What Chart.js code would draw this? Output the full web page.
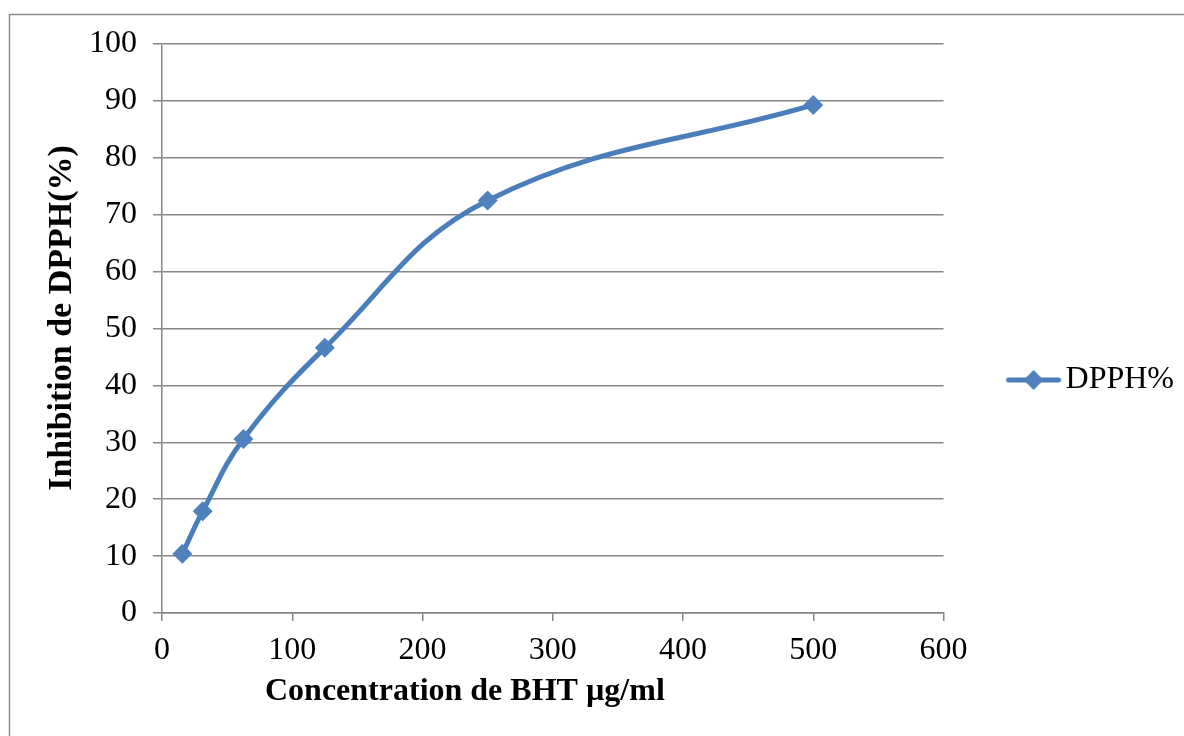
<!DOCTYPE html>
<html>
<head>
<meta charset="utf-8">
<script src="https://cdn.jsdelivr.net/npm/chart.js@4/dist/chart.umd.min.js"></script>
<style>
  html, body { margin: 0; padding: 0; background: #fff; overflow: hidden; }
  #wrap { width: 1184px; height: 736px; position: relative; }
</style>
</head>
<body>
<div id="wrap"><canvas id="c" width="1184" height="736"></canvas></div>
<script>
// Concentrations of BHT (µg/ml) and the matching DPPH inhibition (%)
const concentrations = [15.625, 31.25, 62.5, 125, 250, 500];
const inhibition = [10.4, 17.9, 30.6, 46.6, 72.5, 89.3];
const seriesName = 'DPPH%';
const xTitle = 'Concentration de BHT µg/ml';
const yTitle = 'Inhibition de DPPH(%)';

const lineColor = '#4A7EBB';
const markerColor = '#4F81BD';
const gridColor = '#868686';
const font = 'Liberation Serif, Times New Roman, serif';

// Legend swatch: a short line with a diamond marker on it
function legendSwatch() {
  const c = document.createElement('canvas');
  c.width = 58; c.height = 24;
  const g = c.getContext('2d');
  g.strokeStyle = lineColor;
  g.lineWidth = 5;
  g.lineCap = 'round';
  g.beginPath(); g.moveTo(4, 12); g.lineTo(54, 12); g.stroke();
  g.fillStyle = markerColor;
  g.beginPath();
  g.moveTo(29, 2); g.lineTo(39, 12); g.lineTo(29, 22); g.lineTo(19, 12);
  g.closePath(); g.fill();
  return c;
}

// Thin frame around the chart object
const frame = {
  id: 'frame',
  beforeDraw(chart) {
    const g = chart.ctx;
    g.save();
    g.strokeStyle = '#8c8c8c';
    g.lineWidth = 1.5;
    g.beginPath();
    g.moveTo(9.5, 740); g.lineTo(9.5, 14.5); g.lineTo(1190, 14.5);
    g.stroke();
    g.restore();
  }
};

// Axis titles, placed in the space reserved by the scales
const axisTitles = {
  id: 'axisTitles',
  afterDraw(chart) {
    const g = chart.ctx;
    const a = chart.chartArea;
    g.save();
    g.fillStyle = '#000';
    g.textBaseline = 'middle';
    g.font = 'bold 32px ' + font;
    g.textAlign = 'left';
    g.fillText(xTitle, a.left + 103, 692);
    g.translate(62, 318);
    g.rotate(-Math.PI / 2);
    g.textAlign = 'center';
    g.font = 'bold 34px ' + font;
    g.fillText(yTitle, 0, 0);
    g.restore();
  }
};

new Chart(document.getElementById('c'), {
  type: 'line',
  data: {
    datasets: [{
      label: seriesName,
      data: concentrations.map((x, i) => ({ x, y: inhibition[i] })),
      borderColor: lineColor,
      backgroundColor: markerColor,
      borderWidth: 5,
      tension: 0.4,
      pointStyle: 'rectRot',
      pointRadius: 10,
      pointHoverRadius: 10,
      pointBorderWidth: 0,
      pointBackgroundColor: markerColor,
      fill: false
    }]
  },
  options: {
    responsive: false,
    animation: false,
    events: [],
    layout: { padding: { left: 44, top: 44, right: 0, bottom: 20 } },
    scales: {
      x: {
        type: 'linear',
        min: 0, max: 600,
        ticks: { stepSize: 100, color: '#000', font: { family: font, size: 32 }, padding: 10 },
        grid: { drawOnChartArea: false, drawTicks: true, tickLength: 8, color: gridColor, lineWidth: 1.5 },
        border: { color: gridColor, width: 1.5 },
        title: { display: false, text: xTitle },
        afterFit(s) { s.height = 736 - 613 - 20; }
      },
      y: {
        min: 0, max: 100,
        ticks: { stepSize: 10, color: '#000', font: { family: font, size: 32 }, padding: 16 },
        grid: { color: gridColor, lineWidth: 1.5, tickLength: 9 },
        border: { color: gridColor, width: 1.5 },
        title: { display: false, text: yTitle },
        afterFit(s) { s.width = 162 - 44; }
      }
    },
    plugins: {
      legend: {
        position: 'right',
        labels: {
          color: '#000',
          font: { family: font, size: 32 },
          usePointStyle: true,
          boxWidth: 58,
          padding: 74,
          generateLabels(chart) {
            return [{
              text: seriesName,
              pointStyle: legendSwatch(),
              fillStyle: markerColor,
              strokeStyle: lineColor,
              lineWidth: 0,
              datasetIndex: 0
            }];
          }
        }
      },
      tooltip: { enabled: false }
    }
  },
  plugins: [frame, axisTitles]
});
</script>
</body>
</html>
